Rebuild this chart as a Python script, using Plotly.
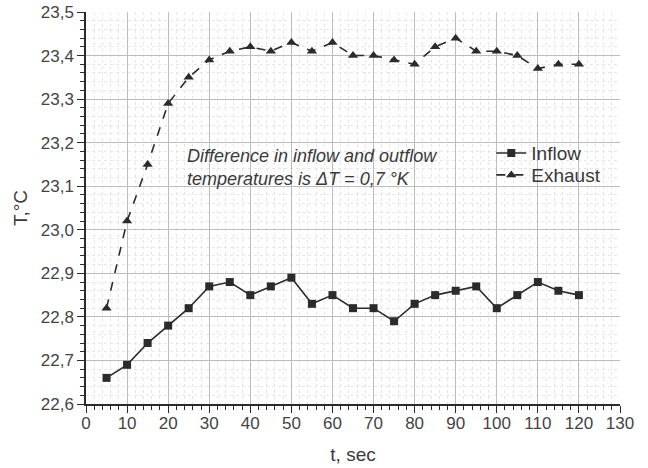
import plotly.graph_objects as go

t_sec = [5, 10, 15, 20, 25, 30, 35, 40, 45, 50, 55, 60, 65, 70, 75, 80,
         85, 90, 95, 100, 105, 110, 115, 120]
inflow = [22.66, 22.69, 22.74, 22.78, 22.82, 22.87, 22.88, 22.85, 22.87, 22.89,
          22.83, 22.85, 22.82, 22.82, 22.79, 22.83, 22.85, 22.86, 22.87, 22.82,
          22.85, 22.88, 22.86, 22.85]
exhaust = [22.82, 23.02, 23.15, 23.29, 23.35, 23.39, 23.41, 23.42, 23.41, 23.43,
           23.41, 23.43, 23.40, 23.40, 23.39, 23.38, 23.42, 23.44, 23.41, 23.41,
           23.40, 23.37, 23.38, 23.38]

FONT = "Liberation Sans, Arial, sans-serif"
DARK = "#2b2b2b"
TXT = "#3a3a3a"

fig = go.Figure()
fig.add_trace(go.Scatter(
    x=t_sec, y=inflow, name="Inflow", mode="lines+markers",
    line=dict(color=DARK, width=1.6),
    marker=dict(symbol="square", size=8, color=DARK),
    legend="legend",
))
fig.add_trace(go.Scatter(
    x=t_sec, y=exhaust, name="Exhaust", mode="lines+markers",
    line=dict(color=DARK, width=1.6, dash="dash"),
    marker=dict(symbol="triangle-up", size=9, color=DARK),
    legend="legend2",
))

fig.add_annotation(
    x=0.186, y=0.664, xref="paper", yref="paper",
    xanchor="left", yanchor="top", align="left", showarrow=False,
    text="<i>Difference in inflow and outflow<br>temperatures is ΔT = 0,7 °K</i>",
    font=dict(family=FONT, size=18, color=TXT),
)

legend_style = dict(
    xanchor="left", yanchor="middle", bgcolor="rgba(0,0,0,0)",
    font=dict(family=FONT, size=19, color=TXT), itemwidth=30,
)

fig.update_layout(
    width=648, height=468,
    margin=dict(l=86, r=28, t=12, b=64, autoexpand=False),
    paper_bgcolor="white", plot_bgcolor="white",
    separators=",.",
    font=dict(family=FONT, size=16, color=TXT),
    showlegend=True,
    legend=dict(x=0.759, y=0.640, **legend_style),
    legend2=dict(x=0.759, y=0.584, **legend_style),
    xaxis=dict(
        range=[0, 130], tick0=0, dtick=10, automargin=False,
        showline=True, linecolor=DARK, linewidth=1.5,
        ticks="outside", ticklen=7, tickcolor=DARK, tickwidth=1.2,
        ticklabelstandoff=-4, ticklabeloverflow="allow",
        showgrid=True, gridcolor="#bdbdbd", gridwidth=1,
        zeroline=False,
        minor=dict(dtick=2, ticks="outside", ticklen=4, tickcolor=DARK,
                   showgrid=True, gridcolor="#e6e6e6", griddash="dot", gridwidth=1),
        title=dict(text="t, sec", font=dict(family=FONT, size=19, color=TXT),
                   standoff=16),
        tickfont=dict(family=FONT, size=17, color="#444444"),
    ),
    yaxis=dict(
        range=[22.6, 23.5], tick0=22.6, dtick=0.1, tickformat=".1f", automargin=False,
        showline=True, linecolor=DARK, linewidth=1.5,
        ticks="outside", ticklen=7, tickcolor=DARK, tickwidth=1.2,
        ticklabeloverflow="allow",
        showgrid=True, gridcolor="#bdbdbd", gridwidth=1,
        zeroline=False,
        minor=dict(dtick=0.02, ticks="outside", ticklen=4, tickcolor=DARK,
                   showgrid=True, gridcolor="#e6e6e6", griddash="dot", gridwidth=1),
        title=dict(text="T,°C", font=dict(family=FONT, size=19, color=TXT),
                   standoff=8),
        tickfont=dict(family=FONT, size=17, color="#444444"),
    ),
)

fig.write_html("out.html", config={"displayModeBar": False},
               post_script="document.body.style.margin='0';")
